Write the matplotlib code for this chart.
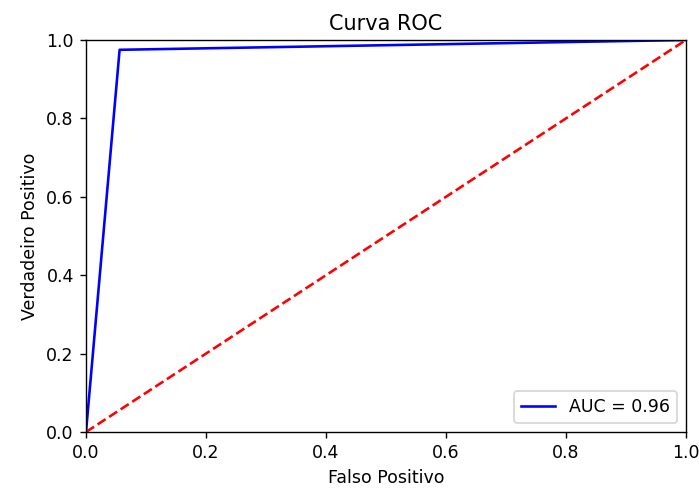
import matplotlib
matplotlib.use("Agg")
import matplotlib.pyplot as plt

# ROC curve values
fpr = [0.0, 0.056, 1.0]
tpr = [0.0, 0.975, 1.0]
auc_value = 0.96
diag = [0.0, 1.0]

# the reference looks like a default figure rendered ~1.25x larger
dpi = 125
fig = plt.figure(figsize=(699 / dpi, 488 / dpi), dpi=dpi)
ax = fig.add_axes([86 / 699, 1 - 432 / 488, 600 / 699, 392 / 488])

ax.plot(fpr, tpr, 'b', label='AUC = %0.2f' % auc_value)
ax.plot(diag, diag, 'r--')
ax.legend(loc='lower right')
ax.set_xlim(0, 1)
ax.set_ylim(0, 1)
ax.set_title('Curva ROC')
ax.set_xlabel('Falso Positivo')
ax.set_ylabel('Verdadeiro Positivo')

fig.savefig('out.png', dpi=dpi)
